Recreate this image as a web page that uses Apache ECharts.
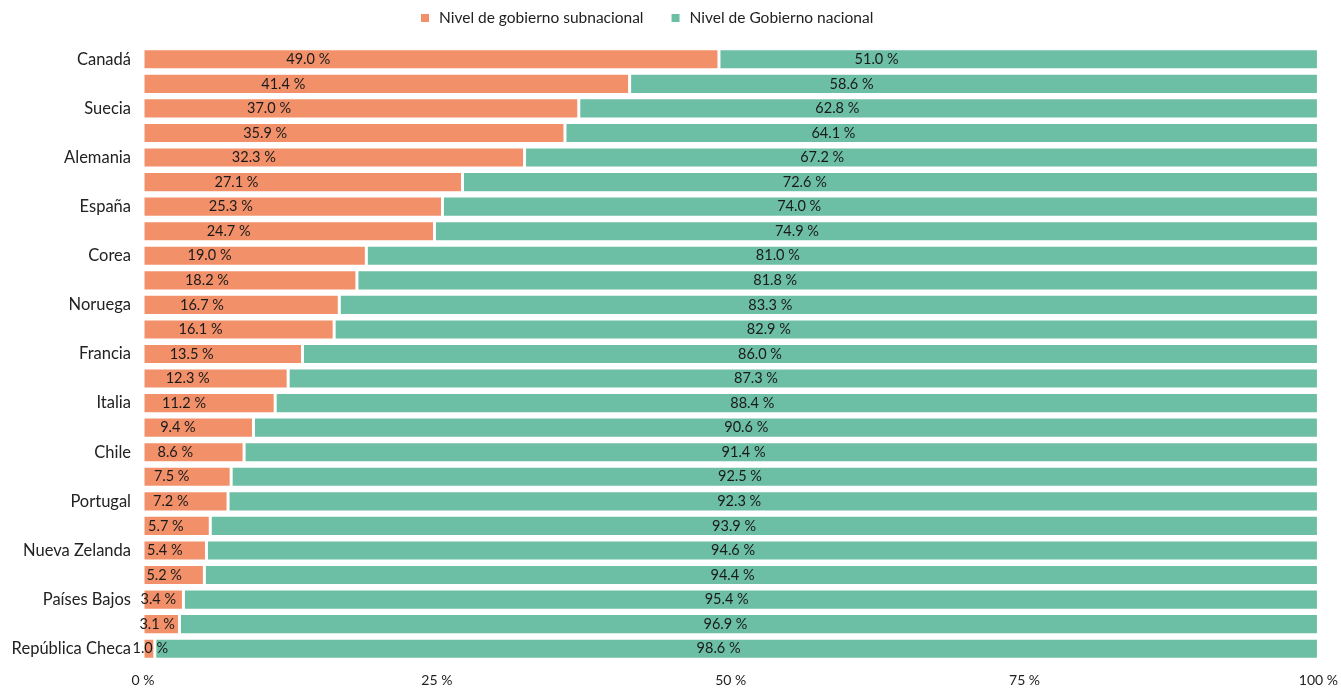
<!DOCTYPE html>
<html>
<head>
<meta charset="utf-8">
<script src="https://cdn.jsdelivr.net/npm/echarts@6/dist/echarts.min.js"></script>
<style>
html,body{margin:0;padding:0;background:#fff;}
#chart{width:1341px;height:690px;}
</style>
</head>
<body>
<div id="chart"></div>
<script>
// Categories (only every other label is shown in the reference)
const categories = ['Canadá','Suiza','Suecia','Dinamarca','Alemania','Finlandia','España','Bélgica','Corea','Austria','Noruega','Japón','Francia','Polonia','Italia','Reino Unido','Chile','México','Portugal','Turquía','Nueva Zelanda','Irlanda','Países Bajos','Grecia','República Checa'];
const subnational = [49.0,41.4,37.0,35.9,32.3,27.1,25.3,24.7,19.0,18.2,16.7,16.1,13.5,12.3,11.2,9.4,8.6,7.5,7.2,5.7,5.4,5.2,3.4,3.1,1.0];
const national = [51.0,58.6,62.8,64.1,67.2,72.6,74.0,74.9,81.0,81.8,83.3,82.9,86.0,87.3,88.4,90.6,91.4,92.5,92.3,93.9,94.6,94.4,95.4,96.9,98.6];
const xTicks = [0,25,50,75,100];
const seriesNames = ['Nivel de gobierno subnacional','Nivel de Gobierno nacional'];

// shares normalised to 100 % per row
const subShare = subnational.map((v,i)=> v/(v+national[i])*100);
const natShare = national.map((v,i)=> v/(v+subnational[i])*100);

// label placement (fraction along bar), as seen in the reference
const subLabelFrac = 0.28;
const natLabelGap = 48.35; // gap between the two labels, in axis units
const natData = natShare.map((g,i)=>{
  const o = subShare[i];
  const frac = (subLabelFrac*o + natLabelGap - o)/g;
  return {value:g, label:{position:[(frac*100).toFixed(2)+'%','50%']}};
});

const font = 'Lato, "Noto Sans", sans-serif';
const chart = echarts.init(document.getElementById('chart'));
chart.setOption({
  animation:false,
  textStyle:{fontFamily:font},
  legend:{
    left:414, top:5, itemWidth:10, itemHeight:10, itemGap:26, icon:'rect',
    textStyle:{fontFamily:font, fontSize:15.5, color:'#222', padding:[0,0,0,4]},
    data:seriesNames
  },
  grid:{left:143, right:21, top:47, bottom:29, containLabel:false},
  xAxis:{
    type:'value', min:xTicks[0], max:xTicks[xTicks.length-1], interval:25,
    axisLine:{show:false}, axisTick:{show:false}, splitLine:{show:false},
    axisLabel:{fontFamily:font, fontSize:14, color:'#222', margin:12, formatter:'{value} %'}
  },
  yAxis:{
    type:'category', data:categories, inverse:true,
    axisLine:{show:false}, axisTick:{show:false},
    axisLabel:{interval:1, fontFamily:font, fontSize:16.5, color:'#222', margin:12}
  },
  series:[
    {
      name:seriesNames[0], type:'bar', stack:'t', data:subShare,
      barCategoryGap:'14%',
      itemStyle:{color:'#F2906A', borderColor:'#fff', borderWidth:1.5},
      label:{show:true, position:[(subLabelFrac*100)+'%','50%'], offset:[4,0], align:'center', verticalAlign:'middle',
        fontFamily:font, fontSize:14.5, color:'#1a1a1a',
        formatter:p=> subnational[p.dataIndex].toFixed(1)+' %'}
    },
    {
      name:seriesNames[1], type:'bar', stack:'t', data:natData,
      barCategoryGap:'14%',
      itemStyle:{color:'#6CBFA4', borderColor:'#fff', borderWidth:1.5},
      label:{show:true, offset:[4,0], align:'center', verticalAlign:'middle',
        fontFamily:font, fontSize:14.5, color:'#1a1a1a',
        formatter:p=> national[p.dataIndex].toFixed(1)+' %'}
    }
  ]
});
</script>
</body>
</html>
